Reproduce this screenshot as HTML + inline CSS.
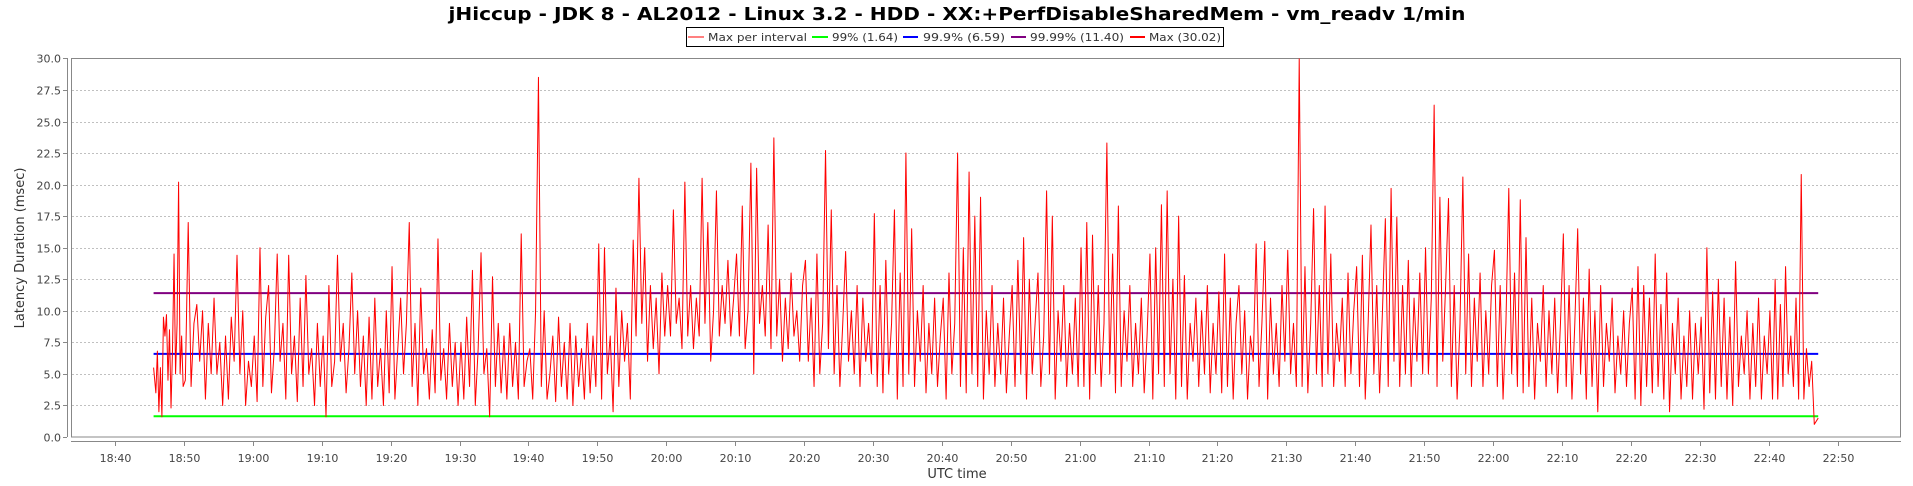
<!DOCTYPE html>
<html><head><meta charset="utf-8"><style>
html,body{margin:0;padding:0;background:#fff;}
svg{display:block;font-family:"DejaVu Sans","Liberation Sans",sans-serif;}
</style></head><body>
<svg id="chart" width="1913" height="486" viewBox="0 0 1913 486">
<defs><clipPath id="clip"><rect x="71.5" y="58.5" width="1829" height="378.5"/></clipPath></defs>
<text x="957" y="20" text-anchor="middle" font-size="18" font-weight="bold" fill="#000" textLength="1017" lengthAdjust="spacingAndGlyphs">jHiccup - JDK 8 - AL2012 - Linux 3.2 - HDD - XX:+PerfDisableSharedMem - vm_readv 1/min</text>
<g id="legend">
<rect x="686.5" y="27.5" width="537" height="19" fill="#fff" stroke="#000" stroke-width="1"/>
<line x1="688" y1="37" x2="704" y2="37" stroke="#f00" stroke-width="1"/>
<text x="708" y="41" font-size="11" fill="#333" textLength="99" lengthAdjust="spacingAndGlyphs">Max per interval</text>
<line x1="812" y1="37" x2="828" y2="37" stroke="#0f0" stroke-width="2"/>
<text x="832" y="41" font-size="11" fill="#333" textLength="66" lengthAdjust="spacingAndGlyphs">99% (1.64)</text>
<line x1="903" y1="37" x2="918" y2="37" stroke="#00f" stroke-width="2"/>
<text x="923" y="41" font-size="11" fill="#333" textLength="82" lengthAdjust="spacingAndGlyphs">99.9% (6.59)</text>
<line x1="1011" y1="37" x2="1026" y2="37" stroke="#800080" stroke-width="2"/>
<text x="1030" y="41" font-size="11" fill="#333" textLength="94" lengthAdjust="spacingAndGlyphs">99.99% (11.40)</text>
<line x1="1130" y1="37" x2="1145" y2="37" stroke="#f00" stroke-width="2"/>
<text x="1149" y="41" font-size="11" fill="#333" textLength="72" lengthAdjust="spacingAndGlyphs">Max (30.02)</text>
</g>
<rect x="71.5" y="58.5" width="1829" height="378.5" fill="#fff" stroke="#888" stroke-width="1"/>
<g id="grid"></g>
<g id="axes"></g>
<g id="series" clip-path="url(#clip)"></g>
<text x="957" y="478" text-anchor="middle" font-size="13" fill="#333">UTC time</text>
<text transform="translate(24,248) rotate(-90)" text-anchor="middle" font-size="13" fill="#333">Latency Duration (msec)</text>
</svg>
<script>
const yTicks=[0,2.5,5,7.5,10,12.5,15,17.5,20,22.5,25,27.5,30];
const xTickMinutes=[40,50,60,70,80,90,100,110,120,130,140,150,160,170,180,190,200,210,220,230,240,250,260,270,280,290];
const startMin=45.6, endMin=287.2;
const pctNames=["p99","p999","p9999"];
const pctValues=[1.64,6.59,11.40];
const pctColors=["#00ff00","#0000ff","#800080"];
// max per interval values, grouped by 10-minute block (first block starts at 18:45.6)
const maxBlocks=[
[5.5,3.5,6.8,2,5.5,1.6,9.5,8,9.7,4.5,8.5,2.3,7,14.5,5,9,20.2,5,8,4],
[4.5,17,4,9,10.5,6,10,3,9,5,11,5,7.5,2.5,8,3,9.5,6,14.4,5,10,2.5,6,4],
[8,2.8,15,4,9.5,12,3.5,7,14.5,6,9,3,14.4,5,8,2.8,11,4,12.8,5,7,2.5,9,4],
[8,1.6,12,4,6,14.4,6,9,3.5,7,13,5,10,4,8,2.5,9.5,3,11,4,7,2.5,10,3.5],
[13.5,3,7,11,5,9,17,4,9,2.5,11.8,5,7,3,8.5,3.5,15.7,4.5,7,3,9,4,7.5,2.5],
[7.5,3,9.5,4,13.2,2.5,7,14.6,5,7,1.6,12.7,4,9,3.5,8,3,9,4,7.5,3,16.1,4,6],
[7,3,10,28.5,4,10,3,5,8,2.8,9.5,4,7.5,3,9,2.5,8,4,7,3,9,3.5,8,4],
[15.3,3,15,5,8,2,11.8,4,10,6,9,3,15.6,8,20.5,9,15,6,12,7,11,5,13,8],
[12,8,18,9,11,7,20.2,8,12,7,11,8,20.5,9,17,6,10,19.5,8,12,9,14,8,11],
[14.5,8,18.3,7,10,21.7,5,21.3,9,12,8,16.8,7,23.7,8,12.5,6,11,7,13,8,10,6,12],
[14,6,11,4,14.5,5,9,22.7,7,18,5,12,4,9,14.7,6,10,5,12,4,11,6,9,5],
[17.7,4,12,3.5,14,5,9,18,3,13,4,22.5,5,16.5,4,10,6,12,3.5,9,5,11,4,8],
[11,3,13,5,9,22.5,4,15,3.5,21,5,17.5,4,19,3,10,5,12,4,9,5,11,3.5,8],
[12,4,14,5,15.8,3,12.5,5,9,13,4,8,19.5,5,17.5,3,10,6,12,4,9,5,11,4],
[15,4,17,3,16,5,12,4,9,23.3,5,14.5,3.5,18.3,4,10,6,12,4,9,5,11,3.5,8],
[14.5,3,15,5,18.4,4,19.5,5,12.5,3,17.5,4,12.8,3,9,6,11,4,10,5,12,3.5,9,5],
[11.5,3.5,14.5,4,11,3,9,12,5,10,3,8,6,15.3,4,9,15.5,3,11,5,9,4,12,6],
[14.8,5,9,4,30,4,13.5,3.5,9,18.1,5,12,4,18.3,5,14.5,4,9,6,11,4,13,5,10],
[13.5,4,14.4,3,9,16.8,5,12,3.5,10,17.3,4,19.7,6,17.4,4,12,5,14,4,11,6,13,5],
[15,5,11,26.3,4,19,6,12,18.9,4,12,3,9,20.6,5,14.5,4,11,6,13,4,10,5,12],
[14.8,4,12,3,9,19.7,5,13,4,18.8,3.5,15.8,4,11,3,9,6,12,4,10,5,11,3.5,9],
[16.1,4,12,3,9,16.5,5,11,3,13.3,4,10,2,12,4,9,6,11,3.5,8,5,10,4,9],
[11.8,3,13.5,2.5,12,4,11,3.5,14.5,4,10.5,3,13,2,9,5,11,3,8,4,10,3,9,5],
[9.5,2.2,15,3.5,11.5,3,12.5,4,11,3,9.5,2.5,13.9,4,8,5,10,3,9,4,11,3,8,5],
[10,3,12.5,3,10.5,4,13.5,5,8,4,11,3,20.8,3,7,4,6,1,1.5]
];
const NS="http://www.w3.org/2000/svg";
function xScale(m){return 115+(m-40)/10*68.9;}
function yScale(v){return 437-v*12.62;}
function fmt(m){const h=18+Math.floor(m/60),mm=m%60;return h+":"+(mm<10?"0":"")+mm;}
const grid=document.getElementById("grid"),axes=document.getElementById("axes"),series=document.getElementById("series");
yTicks.forEach(v=>{
  const y=Math.round(yScale(v))+0.5;
  if(v>0&&v<30){
    const g=document.createElementNS(NS,"line");
    g.setAttribute("x1",72);g.setAttribute("x2",1900);g.setAttribute("y1",y);g.setAttribute("y2",y);
    g.setAttribute("stroke","#c0c0c0");g.setAttribute("stroke-dasharray","2,2");
    
    
    grid.appendChild(g);
  }
  const t=document.createElementNS(NS,"line");
  t.setAttribute("x1",63);t.setAttribute("x2",67);t.setAttribute("y1",y);t.setAttribute("y2",y);t.setAttribute("stroke","#888");
  
  
  axes.appendChild(t);
  const l=document.createElementNS(NS,"text");
  l.setAttribute("x",61);l.setAttribute("y",y+4);l.setAttribute("text-anchor","end");l.setAttribute("font-size","11");l.setAttribute("fill","#444");
  l.textContent=v.toFixed(1);
  
  
  axes.appendChild(l);
});
const ya=document.createElementNS(NS,"line");
ya.setAttribute("x1",67.5);ya.setAttribute("x2",67.5);ya.setAttribute("y1",58);ya.setAttribute("y2",437);ya.setAttribute("stroke","#888");


axes.appendChild(ya);
const xa=document.createElementNS(NS,"line");
xa.setAttribute("x1",71);xa.setAttribute("x2",1901);xa.setAttribute("y1",441.5);xa.setAttribute("y2",441.5);xa.setAttribute("stroke","#888");


axes.appendChild(xa);
xTickMinutes.forEach(m=>{
  const x=Math.round(xScale(m))+0.5;
  if(x>1900)return;
  const t=document.createElementNS(NS,"line");
  t.setAttribute("x1",x);t.setAttribute("x2",x);t.setAttribute("y1",441);t.setAttribute("y2",446);t.setAttribute("stroke","#888");
  
  
  axes.appendChild(t);
  const l=document.createElementNS(NS,"text");
  l.setAttribute("x",x);l.setAttribute("y",462);l.setAttribute("text-anchor","middle");l.setAttribute("font-size","11");l.setAttribute("fill","#444");
  l.textContent=fmt(m);
  
  
  axes.appendChild(l);
});
pctValues.forEach((v,i)=>{
  const ln=document.createElementNS(NS,"line");
  ln.setAttribute("x1",xScale(startMin));ln.setAttribute("x2",xScale(endMin));
  ln.setAttribute("y1",yScale(v));ln.setAttribute("y2",yScale(v));
  ln.setAttribute("stroke",pctColors[i]);ln.setAttribute("stroke-width","2");
  
  
  series.appendChild(ln);
});
const pts=[];
maxBlocks.forEach((blk,b)=>{
  const s=b===0?startMin:50+(b-1)*10;
  const e=b===maxBlocks.length-1?endMin:50+b*10;
  const d=(e-s)/blk.length;
  blk.forEach((v,j)=>{
    let t=s+(j+0.5)*d;
    if(b===0&&j===0)t=startMin;
    if(b===maxBlocks.length-1&&j===blk.length-1)t=endMin;
    pts.push(xScale(t).toFixed(2)+","+yScale(v).toFixed(2));
  });
});
const pl=document.createElementNS(NS,"polyline");
pl.setAttribute("points",pts.join(" "));pl.setAttribute("fill","none");pl.setAttribute("stroke","#ff0000");pl.setAttribute("stroke-width","1");pl.setAttribute("stroke-linejoin","round");


series.appendChild(pl);
</script>
</body></html>
